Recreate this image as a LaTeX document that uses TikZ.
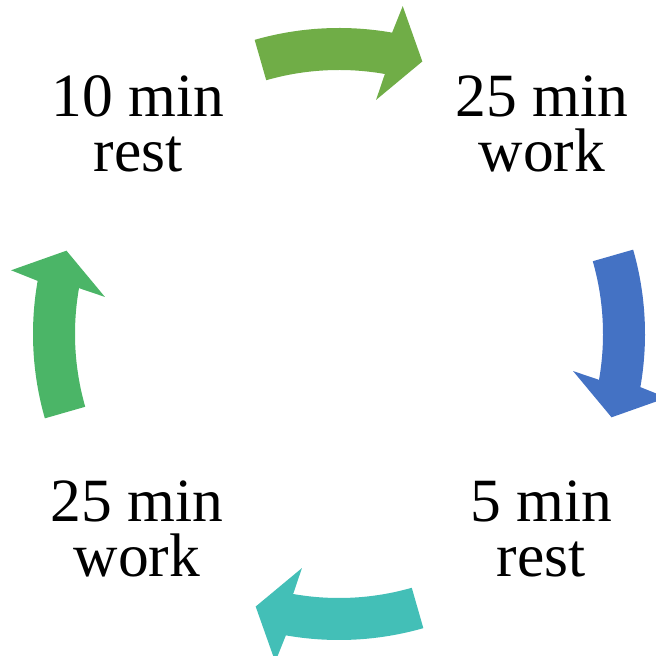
\documentclass[tikz,border=0pt]{standalone}
\usepackage{fontspec}
\setmainfont{Liberation Serif}
\definecolor{arrowolive}{RGB}{112,173,71}
\definecolor{arrowblue}{RGB}{68,114,196}
\definecolor{arrowteal}{RGB}{67,191,183}
\definecolor{arrowgreen}{RGB}{75,181,103}
\newcommand\cyclearrow[2]{%
  \begin{scope}[shift={(c)},rotate=#1]
    \fill[#2] (106:306) arc[start angle=106,end angle=80,radius=306]
      -- (79:334) -- (73:285) -- (81:237) -- (80:264)
      arc[start angle=80,end angle=106,radius=264] -- cycle;
  \end{scope}}
\begin{document}
\begin{tikzpicture}[x=1pt,y=1pt,
  lbl/.style={align=center,anchor=base,inner sep=0pt,
    font=\fontsize{61.5}{55.5}\selectfont}]
\useasboundingbox (0,0) rectangle (656,656);
\coordinate (c) at (339,322);
\node[lbl] (tl) at (138,484) {10 min\\rest};
\node[lbl] (tr) at (542,484) {25 min\\work};
\node[lbl] (br) at (541,79) {5 min\\rest};
\node[lbl] (bl) at (137,79) {25 min\\work};
\cyclearrow{0}{arrowolive}
\cyclearrow{-90}{arrowblue}
\cyclearrow{180}{arrowteal}
\cyclearrow{90}{arrowgreen}
\end{tikzpicture}
\end{document}
